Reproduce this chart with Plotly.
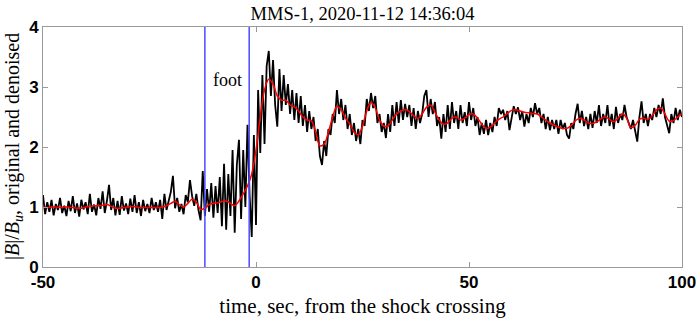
import numpy as np
import plotly.graph_objects as go

# time axis, seconds from the shock crossing
t_denoised = list(range(-50, 101))
t_original = [-50 + 0.5 * i for i in range(301)]

# |B|/Bu, denoised (1 s steps)
b_denoised = [
    1.00, 0.99, 1.00, 1.00, 0.99, 1.00, 1.00, 0.99, 0.98, 0.98,
    1.00, 1.01, 1.02, 1.02, 1.03, 1.04, 1.01, 0.98, 0.98, 0.99,
    1.00, 1.01, 1.00, 0.99, 0.99, 0.99, 0.99, 0.99, 1.00, 1.02,
    1.06, 1.09, 1.04, 1.00, 1.06, 1.13, 1.08, 0.96, 0.98, 1.04,
    1.06, 1.07, 1.09, 1.10, 1.06, 1.02, 1.10, 1.22, 1.35, 1.55,
    1.95, 2.50, 2.95, 3.13, 3.05, 2.85, 2.78, 2.78, 2.70, 2.67,
    2.60, 2.50, 2.45, 2.44, 2.25, 2.02, 2.05, 2.25, 2.50, 2.68,
    2.62, 2.48, 2.38, 2.25, 2.20, 2.35, 2.60, 2.74, 2.65, 2.45,
    2.35, 2.35, 2.45, 2.55, 2.60, 2.62, 2.59, 2.52, 2.48, 2.55,
    2.66, 2.70, 2.58, 2.45, 2.38, 2.40, 2.48, 2.50, 2.45, 2.48,
    2.54, 2.55, 2.48, 2.38, 2.31, 2.33, 2.40, 2.46, 2.50, 2.56,
    2.61, 2.62, 2.60, 2.58, 2.57, 2.56, 2.55, 2.50, 2.45, 2.40,
    2.36, 2.33, 2.31, 2.31, 2.36, 2.44, 2.48, 2.45, 2.40, 2.39,
    2.42, 2.47, 2.50, 2.46, 2.42, 2.48, 2.56, 2.48, 2.32, 2.36,
    2.46, 2.48, 2.46, 2.52, 2.62, 2.65, 2.55, 2.43, 2.44, 2.50,
    2.56,
]

# |B|/Bu, original (0.5 s steps)
b_original = [
    # -50 .. -40.5
    1.20, 0.88, 1.08, 0.92, 1.12, 0.86, 1.05, 0.95, 1.15, 0.90,
    1.02, 0.85, 1.10, 0.93, 1.18, 0.90, 1.06, 0.84, 1.12, 0.96,
    # -40 .. -30.5
    1.08, 0.88, 1.22, 0.92, 1.04, 0.86, 1.15, 0.97, 1.26, 0.90,
    1.10, 1.37, 0.95, 1.15, 0.86, 1.10, 0.87, 1.18, 0.94, 1.06,
    # -30 .. -20.5
    0.88, 1.14, 0.92, 1.20, 0.90, 1.08, 0.85, 1.12, 0.93, 1.05,
    0.90, 1.15, 0.95, 1.08, 0.92, 1.12, 0.80, 1.22, 0.95, 1.10,
    # -20 .. -10.5
    1.25, 1.52, 0.98, 1.15, 0.92, 1.05, 0.88, 1.20, 1.08, 1.45,
    1.18, 1.02, 1.22, 0.95, 0.78, 1.60, 0.85, 1.30, 0.92, 1.40,
    # -10 .. -0.5
    0.82, 1.35, 0.90, 1.50, 0.68, 1.72, 0.62, 1.55, 0.85, 1.95,
    0.57, 1.70, 2.12, 0.80, 1.95, 1.00, 2.37, 1.20, 0.50, 2.20,
    # 0 .. 9.5
    0.70, 2.95, 1.90, 3.20, 2.05, 3.35, 3.60, 2.85, 3.45, 2.70,
    2.34, 3.30, 2.60, 3.20, 2.70, 3.05, 2.55, 2.95, 2.45, 2.90,
    # 10 .. 19.5
    2.40, 2.85, 2.35, 2.70, 2.25, 2.60, 2.30, 2.50, 2.10, 2.30,
    1.85, 1.70, 2.10, 1.85, 2.30, 2.20, 2.55, 2.40, 2.95, 2.55,
    # 20 .. 29.5
    2.80, 2.45, 2.70, 2.30, 2.55, 2.20, 2.40, 2.10, 2.30, 2.05,
    2.45, 2.35, 2.80, 2.60, 2.90, 2.65, 2.85, 2.40, 2.55, 2.25,
    # 30 .. 39.5
    2.40, 2.15, 2.55, 2.25, 2.70, 2.35, 2.75, 2.40, 2.78, 2.45,
    2.72, 2.50, 2.70, 2.35, 2.65, 2.30, 2.60, 2.40, 2.55, 2.85,
    # 40 .. 49.5
    2.95, 2.50, 2.80, 2.55, 2.75, 2.35, 2.50, 2.14, 2.55, 2.25,
    2.70, 2.30, 2.75, 2.40, 2.60, 2.30, 2.70, 2.40, 2.58, 2.35,
    # 50 .. 59.5
    2.75, 2.45, 2.65, 2.35, 2.50, 2.20, 2.40, 2.22, 2.45, 2.20,
    2.40, 2.25, 2.50, 2.35, 2.65, 2.55, 2.62, 2.45, 2.60, 2.28,
    # 60 .. 69.5
    2.50, 2.68, 2.55, 2.66, 2.45, 2.60, 2.34, 2.55, 2.40, 2.65,
    2.50, 2.73, 2.55, 2.65, 2.40, 2.55, 2.30, 2.50, 2.28, 2.45,
    # 70 .. 79.5
    2.30, 2.45, 2.22, 2.45, 2.30, 2.40, 2.20, 2.14, 2.40, 2.30,
    2.55, 2.72, 2.40, 2.60, 2.35, 2.50, 2.30, 2.55, 2.32, 2.60,
    # 80 .. 89.5
    2.40, 2.70, 2.35, 2.55, 2.40, 2.70, 2.35, 2.55, 2.30, 2.67,
    2.40, 2.55, 2.45, 2.70, 2.50, 2.40, 2.30, 2.45, 2.25, 2.09,
    # 90 .. 100
    2.50, 2.76, 2.40, 2.55, 2.35, 2.55, 2.45, 2.65, 2.50, 2.70,
    2.55, 2.81, 2.50, 2.35, 2.23, 2.55, 2.40, 2.65, 2.45, 2.62,
    2.50,
]

foot_edges = [-12.0, -1.6]

serif = "Liberation Serif"
sans = "Liberation Sans"
axis_grey = '#9a9a9a'

fig = go.Figure()

fig.add_trace(go.Scatter(
    x=t_original, y=b_original,
    mode='lines',
    line=dict(color='black', width=1.8),
    name='original'
))

fig.add_trace(go.Scatter(
    x=t_denoised, y=b_denoised,
    mode='lines',
    line=dict(color='#ff0000', width=1.5, shape='spline'),
    name='denoised'
))

# foot boundaries
for xe in foot_edges:
    fig.add_shape(type='line', x0=xe, x1=xe, y0=0, y1=4,
                  xref='x', yref='y',
                  line=dict(color='#4a4aff', width=1.5))

fig.add_annotation(x=-6.8, y=3.12, text='foot', showarrow=False,
                   font=dict(family=serif, size=18, color='black'))

# y label placed by hand so the plot area keeps the reference margins
fig.add_annotation(x=-30 / 639, y=0.5, xref='paper', yref='paper',
                   text='|<i>B</i>|/<i>B<sub>u</sub></i>, original and denoised',
                   textangle=-90, showarrow=False,
                   xanchor='center', yanchor='middle',
                   font=dict(family=serif, size=20, color='black'))

fig.update_layout(
    width=699, height=318,
    margin=dict(l=43, r=17, t=27, b=51),
    paper_bgcolor='white', plot_bgcolor='white',
    showlegend=False,
    title=dict(text='MMS-1, 2020-11-12 14:36:04',
               x=0.5, xref='paper', xanchor='center',
               y=1 - 14 / 318, yref='container', yanchor='middle',
               font=dict(family=serif, size=18.5, color='black')),
)

fig.update_xaxes(
    range=[-50, 100], tickvals=[-50, 0, 50, 100],
    ticktext=['-50', '0', '50', '100'],
    ticks='inside', ticklen=5, tickcolor=axis_grey,
    showline=True, linecolor=axis_grey, linewidth=1, mirror='ticks',
    showgrid=False, zeroline=False, automargin=False,
    tickfont=dict(family=sans, size=17, color='black', weight='bold'),
    title=dict(text='time, sec, from the shock crossing',
               font=dict(family=serif, size=21, color='black')),
)

fig.update_yaxes(
    range=[0, 4], tickvals=[0, 1, 2, 3, 4],
    ticks='inside', ticklen=5, tickcolor=axis_grey,
    showline=True, linecolor=axis_grey, linewidth=1, mirror='ticks',
    showgrid=False, zeroline=False, automargin=False,
    tickfont=dict(family=sans, size=17, color='black', weight='bold'),
)

# drop the browser's default page margin so the figure sits at the top-left corner
fig.write_html("out.html", config={'displayModeBar': False},
               post_script="document.body.style.margin = '0';")
